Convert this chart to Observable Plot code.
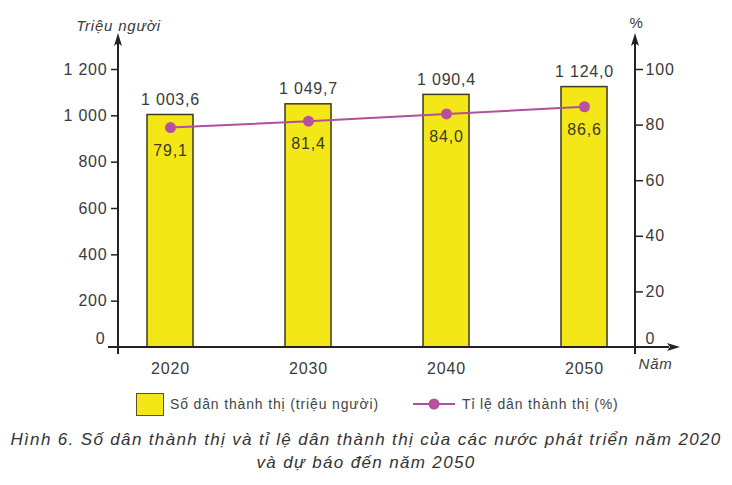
<!DOCTYPE html>
<html>
<head>
<meta charset="utf-8">
<script src="https://cdn.jsdelivr.net/npm/d3@7"></script>
<script src="https://cdn.jsdelivr.net/npm/@observablehq/plot@0.6"></script>
<style>
  body { margin: 0; background: #fff; font-family: "Liberation Sans", Arial, sans-serif; color: #3a3a3a; }
  #wrap { width: 732px; position: relative; }
  #chart svg text { letter-spacing: 0.8px; }
  #legend { position: relative; height: 48px; font-size: 14px; color: #444; letter-spacing: 0.85px; }
  #legend .box { position: absolute; left: 136px; top: 13px; width: 28px; height: 23px; background: #f3e718; border: 1.5px solid #5a5520; box-sizing: border-box; }
  #legend .t { position: absolute; top: 14px; line-height: 20px; white-space: nowrap; }
  #legend svg { position: absolute; left: 412px; top: 14px; }
  #caption { width: 732px; text-align: center; font-style: italic; font-size: 17px; line-height: 23px; color: #333; letter-spacing: 1.35px; }
</style>
</head>
<body>
<div id="wrap">
  <div id="chart"></div>
  <div id="legend">
    <div class="box"></div>
    <span class="t" style="left:170px">Số dân thành thị (triệu người)</span>
    <svg width="44" height="20"><line x1="1" y1="10" x2="43" y2="10" stroke="#b04f9e" stroke-width="2"/><circle cx="22" cy="10" r="5.5" fill="#b9509f"/></svg>
    <span class="t" style="left:462px">Tỉ lệ dân thành thị (%)</span>
  </div>
  <div id="caption">Hình 6. Số dân thành thị và tỉ lệ dân thành thị của các nước phát triển năm 2020<br>và dự báo đến năm 2050</div>
</div>
<script>
const years = ["2020", "2030", "2040", "2050"];
const population = [1003.6, 1049.7, 1090.4, 1124.0];
const urbanRate = [79.1, 81.4, 84.0, 86.6];
const leftTicks = [0, 200, 400, 600, 800, 1000, 1200];
const rightTicks = [0, 20, 40, 60, 80, 100];
const axisTop = 1355; // arrow tip value on the population scale

const ratio = d3.max(leftTicks) / d3.max(rightTicks);
const data = years.map((year, i) => ({ year, pop: population[i], rate: urbanRate[i] }));

const loc = d3.formatLocale({ decimal: ",", thousands: " ", grouping: [3], currency: ["", ""] });
const fmt1 = loc.format(",.1f");
const fmtInt = loc.format(",d");

const ink = "#222";
const textInk = "#3a3a3a";
const fs = 16;

function axisLines(index, scales, values, dims) {
  const y = scales.y;
  const xl = dims.marginLeft, xr = dims.width - dims.marginRight;
  const yb = y(0), yt = y(axisTop);
  const g = d3.create("svg:g");
  const lines = g.append("g").attr("stroke", ink).attr("stroke-width", 2).attr("fill", "none");
  lines.append("line").attr("x1", xl).attr("x2", xl).attr("y1", yb + 7).attr("y2", yt + 10);
  lines.append("line").attr("x1", xr).attr("x2", xr).attr("y1", yb + 7).attr("y2", yt + 10);
  lines.append("line").attr("x1", xl - 10).attr("x2", xr + 34).attr("y1", yb).attr("y2", yb);
  const heads = g.append("g").attr("fill", ink);
  for (const x of [xl, xr]) {
    heads.append("path").attr("d", `M${x},${yt} L${x - 4},${yt + 13} L${x},${yt + 10} L${x + 4},${yt + 13} Z`);
  }
  const xe = xr + 45;
  heads.append("path").attr("d", `M${xe},${yb} L${xe - 13},${yb - 4} L${xe - 10},${yb} L${xe - 13},${yb + 4} Z`);
  return g.node();
}

const leftNonZero = leftTicks.filter(v => v !== 0);
const rightNonZero = rightTicks.filter(v => v !== 0);

const chart = Plot.plot({
  width: 732,
  height: 380,
  marginLeft: 118,
  marginRight: 97,
  marginTop: 69,
  marginBottom: 33,
  style: { fontFamily: "'Liberation Sans', Arial, sans-serif", fontSize: fs + "px", color: textInk, background: "transparent", overflow: "visible" },
  x: { type: "band", domain: years, paddingInner: 0.667, paddingOuter: 0.2025 },
  y: { domain: [0, 1200] },
  marks: [
    Plot.barY(data, { x: "year", y: "pop", fill: "#f3e718", stroke: "#3b3a1a", strokeWidth: 1.5 }),
    axisLines,
    Plot.axisY(leftNonZero, { anchor: "left", tickSize: 7, tickPadding: 4, tickFormat: fmtInt, fontSize: fs, label: null, stroke: ink, strokeWidth: 1.5, fill: textInk }),
    Plot.axisY([0], { anchor: "left", tickSize: 0, tickPadding: 13, tickFormat: fmtInt, fontSize: fs, label: null, dy: -9, fill: textInk }),
    Plot.axisY(rightNonZero.map(v => v * ratio), { anchor: "right", tickSize: 7, tickPadding: 3, tickFormat: d => fmtInt(d / ratio), fontSize: fs, label: null, stroke: ink, strokeWidth: 1.5, fill: textInk }),
    Plot.axisY([0], { anchor: "right", tickSize: 0, tickPadding: 10, tickFormat: d => fmtInt(d / ratio), fontSize: fs, label: null, dy: -9, fill: textInk }),
    Plot.axisX({ tickSize: 0, tickPadding: 15, fontSize: fs, label: null, fill: textInk }),
    Plot.line(data, { x: "year", y: d => d.rate * ratio, stroke: "#b04f9e", strokeWidth: 2 }),
    Plot.dot(data, { x: "year", y: d => d.rate * ratio, r: 5.5, fill: "#b9509f" }),
    Plot.text(data, { x: "year", y: "pop", text: d => fmt1(d.pop), dy: -15, fontSize: fs, fill: textInk }),
    Plot.text(data, { x: "year", y: d => d.rate * ratio, text: d => fmt1(d.rate), dy: 23, fontSize: fs, fill: "#3b3a22" }),
    Plot.text(["Triệu người"], { frameAnchor: "top-left", text: d => d, dy: -49, textAnchor: "middle", fontStyle: "italic", fontSize: 15, fill: textInk }),
    Plot.text(["%"], { frameAnchor: "top-right", text: d => d, dx: 1, dy: -52, textAnchor: "middle", fontSize: 15, fill: textInk }),
    Plot.text(["Năm"], { frameAnchor: "bottom-right", text: d => d, dx: 3, dy: 21, textAnchor: "start", fontStyle: "italic", fontSize: 15, fill: textInk })
  ]
});
document.getElementById("chart").appendChild(chart);
</script>
</body>
</html>
